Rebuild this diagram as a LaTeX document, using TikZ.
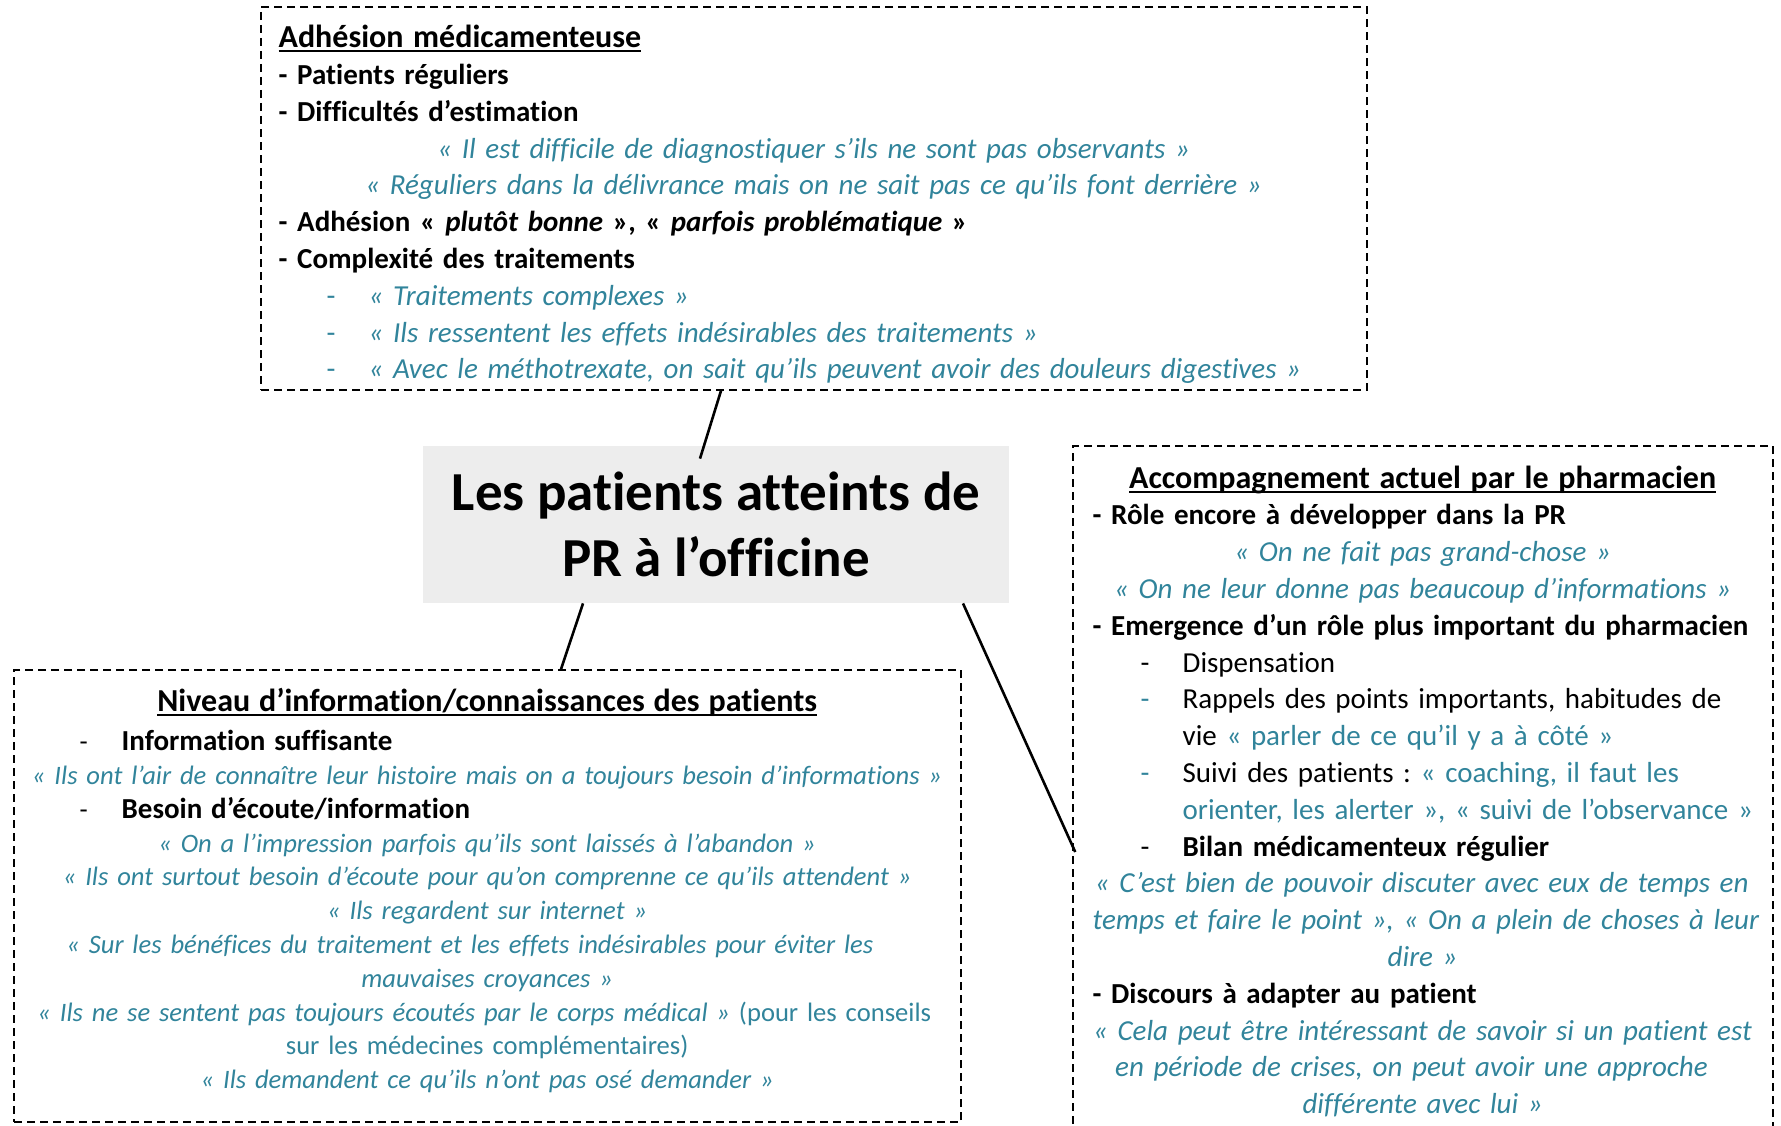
\documentclass[tikz,border=0pt]{standalone}
\usepackage{fontspec}
\setmainfont{Carlito}[Ligatures=NoCommon]
\usetikzlibrary{positioning,calc}

\setlength{\parindent}{0pt}
\frenchspacing
\definecolor{quotecol}{HTML}{31849B}
\definecolor{titlegray}{HTML}{EDEDED}

% quotes, centred lines, headings, dashed items
\newcommand{\qt}[1]{{\color{quotecol}\itshape #1}}
\newcommand{\qu}[1]{{\color{quotecol}#1}}
\newcommand{\cl}[1]{{\centering #1\par}}
\newcommand{\topstrut}{\rule{0pt}{14.5pt}}
\newcommand{\ttl}[1]{\sbox0{\fontsize{16}{19}\selectfont\bfseries #1}\rlap{\rule[-2.4pt]{\wd0}{1.2pt}}\usebox0}
\newcommand{\ditem}[2][black]{\hangindent=45pt\hangafter=1\makebox[45pt][l]{\hspace*{24pt}\textcolor{#1}{-}}#2\par}

\tikzset{
  dashbox/.style={draw, dash pattern=on 4pt off 2.5pt, line width=0.75pt, inner sep=0pt},
  boxtext/.style={anchor=north west, inner sep=0pt, align=left, font=\fontsize{14.5}{18.4}\selectfont},
  link/.style={line width=1.3pt},
}

\begin{document}
\begin{tikzpicture}[x=0.5pt,y=-0.5pt]
\useasboundingbox (0,0) rectangle (1781,1125);
\clip (0,0) rectangle (1781,1125);

% frames
\node[dashbox, minimum width=553pt, minimum height=191.5pt] (adh) at (814,198.5) {};
\node[fill=titlegray, inner sep=0pt, minimum width=293pt, minimum height=78.5pt, align=center,
      font=\fontsize{27.5}{33}\selectfont\bfseries] (pat) at (716,524.5) {Les patients atteints de\\PR à l’officine};
\node[dashbox, minimum width=473.5pt, minimum height=226pt] (info) at (487.5,896) {};
\node[dashbox, minimum width=350pt, minimum height=349.5pt] (accomp) at (1423,795.5) {};

% links
\draw[link] ([shift={(-93,0)}]adh.south) -- ([shift={(-16,13)}]pat.north);
\draw[link] ([shift={(-133,0)}]pat.south) -- ([shift={(73.5,0)}]info.north);
\draw[link] ([shift={(247,0)}]pat.south) -- ([shift={(3,56.5)}]accomp.west);

% contents
\node[boxtext, text width=535pt] (adhtxt) at ([shift={(18,12)}]adh.north west) {
  \topstrut\ttl{Adhésion médicamenteuse}\par
  \textbf{- Patients réguliers}\par
  \textbf{- Difficultés d’estimation}\par
  \cl{\qt{« Il est difficile de diagnostiquer s’ils ne sont pas observants »}}
  \cl{\qt{« Réguliers dans la délivrance mais on ne sait pas ce qu’ils font derrière »}}
  \textbf{- Adhésion « \textit{plutôt bonne} », « \textit{parfois problématique} »}\par
  \textbf{- Complexité des traitements}\par
  \ditem[quotecol]{\qt{« Traitements complexes »}}
  \ditem[quotecol]{\qt{« Ils ressentent les effets indésirables des traitements »}}
  \ditem[quotecol]{\qt{« Avec le méthotrexate, on sait qu’ils peuvent avoir des douleurs digestives »}}
};

\node[boxtext, text width=455.5pt, font=\fontsize{13.3}{16.9}\selectfont] (infotxt) at ([shift={(18,12.5)}]info.north west) {
  \cl{\topstrut\ttl{Niveau d’information/connaissances des patients}}
  \vspace{2.9pt}
  \ditem{\textbf{\fontsize{14.5}{16.9}\selectfont Information suffisante}}
  \cl{\qt{« Ils ont l’air de connaître leur histoire mais on a toujours besoin d’informations~»}}
  \ditem{\textbf{\fontsize{14.5}{16.9}\selectfont Besoin d’écoute/information}}
  \cl{\qt{« On a l’impression parfois qu’ils sont laissés à l’abandon »}}
  \cl{\qt{« Ils ont surtout besoin d’écoute pour qu’on comprenne ce qu’ils attendent »}}
  \cl{\qt{« Ils regardent sur internet »}}
  \cl{\qt{« Sur les bénéfices du traitement et les effets indésirables pour éviter les}\newline\qt{mauvaises croyances »}}
  \cl{\qt{« Ils ne se sentent pas toujours écoutés par le corps médical »} \qu{(pour les conseils}\newline\qu{sur les médecines complémentaires)}}
  \cl{\qt{« Ils demandent ce qu’ils n’ont pas osé demander »}}
};

\node[boxtext, text width=330pt] (accomptxt) at ([shift={(20,13.5)}]accomp.north west) {
  \cl{\topstrut\ttl{Accompagnement actuel par le pharmacien}}
  \textbf{- Rôle encore à développer dans la PR}\par
  \cl{\qt{« On ne fait pas grand-chose »}}
  \cl{\qt{« On ne leur donne pas beaucoup d’informations »}}
  \textbf{- Emergence d’un rôle plus important du pharmacien}\par
  \ditem{Dispensation}
  \ditem[quotecol]{Rappels des points importants, habitudes de\newline vie \qu{« parler de ce qu’il y a à côté »}}
  \ditem[quotecol]{Suivi des patients : \qu{« coaching, il faut les}\newline\mbox{\qu{orienter, les alerter », « suivi de l’observance »}}}
  \ditem{\textbf{Bilan médicamenteux régulier}}
  \cl{\mbox{\qt{« C’est bien de pouvoir discuter avec eux de temps en}}\newline\mbox{\qt{temps et faire le point », « On a plein de choses à leur}}\newline\qt{dire »}}
  \textbf{- Discours à adapter au patient}\par
  \cl{\mbox{\qt{« Cela peut être intéressant de savoir si un patient est}}\newline\qt{en période de crises, on peut avoir une approche}\newline\qt{différente avec lui »}}
};
\end{tikzpicture}
\end{document}
